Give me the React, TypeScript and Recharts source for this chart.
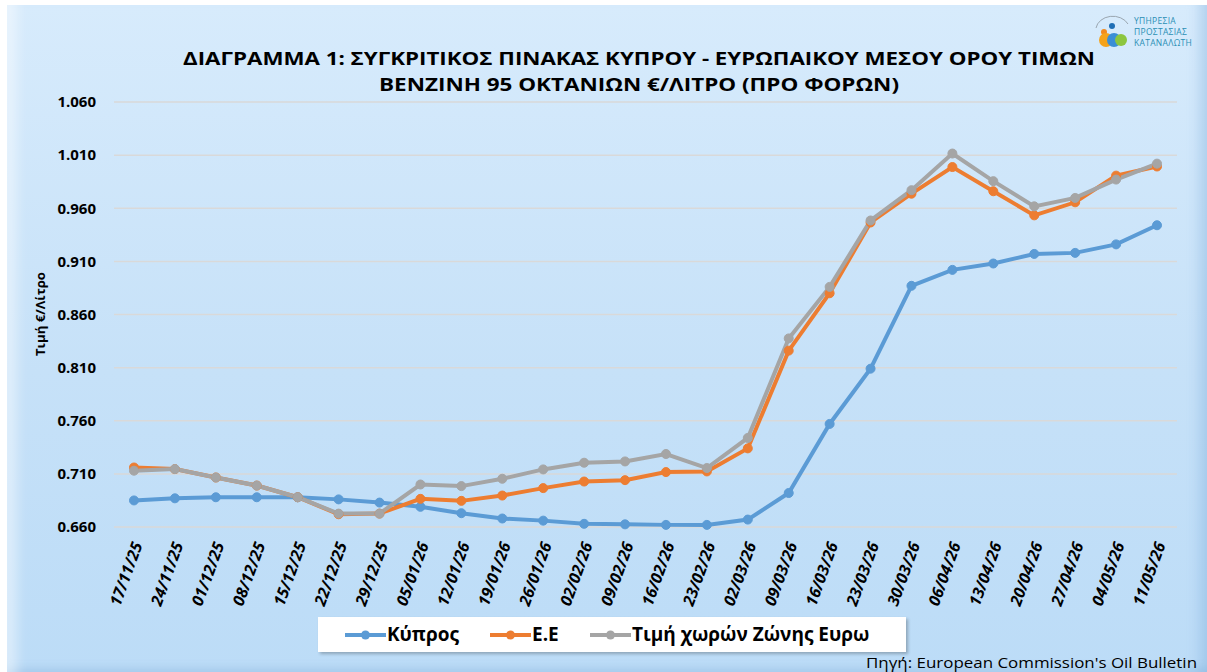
import React from 'react';
import { LineChart, Line, XAxis, YAxis, CartesianGrid, Legend } from 'recharts';

const dates = [
  '17/11/25', '24/11/25', '01/12/25', '08/12/25', '15/12/25', '22/12/25', '29/12/25',
  '05/01/26', '12/01/26', '19/01/26', '26/01/26', '02/02/26', '09/02/26', '16/02/26',
  '23/02/26', '02/03/26', '09/03/26', '16/03/26', '23/03/26', '30/03/26', '06/04/26',
  '13/04/26', '20/04/26', '27/04/26', '04/05/26', '11/05/26',
];

const cyprus = [
  0.685, 0.687, 0.688, 0.688, 0.688, 0.686, 0.683, 0.679, 0.673, 0.668, 0.666, 0.663, 0.6625,
  0.662, 0.662, 0.667, 0.692, 0.757, 0.809, 0.887, 0.902, 0.908, 0.917, 0.918, 0.926, 0.944,
];

const eu = [
  0.716, 0.7145, 0.7066, 0.699, 0.688, 0.672, 0.6726, 0.6865, 0.6846, 0.6896, 0.6966, 0.7028, 0.7041,
  0.7117, 0.7123, 0.734, 0.826, 0.88, 0.9466, 0.9737, 0.9988, 0.976, 0.9533, 0.9656, 0.9907, 0.9993,
];

const euroZone = [
  0.713, 0.7145, 0.7066, 0.699, 0.688, 0.6726, 0.6726, 0.7, 0.6985, 0.7054, 0.7142, 0.7205, 0.7217,
  0.7287, 0.7155, 0.7438, 0.8375, 0.886, 0.9485, 0.977, 1.0115, 0.9855, 0.9618, 0.9697, 0.987, 1.002,
];

const yTicks = [0.66, 0.71, 0.76, 0.81, 0.86, 0.91, 0.96, 1.01, 1.06];

const series = [
  { key: 'cyprus', name: 'Κύπρος', color: '#5B9BD5' },
  { key: 'eu', name: 'Ε.Ε', color: '#ED7D31' },
  { key: 'euroZone', name: 'Τιμή χωρών Ζώνης Ευρω', color: '#A5A5A5' },
];

const data = dates.map((d, i) => ({ date: d, cyprus: cyprus[i], eu: eu[i], euroZone: euroZone[i] }));

const FONT = '"Open Sans", "DejaVu Sans", sans-serif';

// legend item x offsets inside the white box (icon start)
const legendX = [27, 172, 272];

const DateTick = (props: any) => {
  const { x, y, payload } = props;
  return (
    <g transform={`translate(${x + 4},${y + 8})`}>
      <text
        transform="rotate(-70)"
        textAnchor="end"
        dy={5}
        fontSize={16}
        fontWeight={700}
        fontStyle="italic"
        fontFamily={FONT}
        fill="#000"
      >
        {payload.value}
      </text>
    </g>
  );
};

const LegendBox = () => (
  <div
    style={{
      position: 'relative',
      width: 588,
      height: 35,
      background: '#fff',
      boxShadow: '2px 2px 3px rgba(0,0,0,0.25)',
      fontFamily: FONT,
      fontWeight: 700,
      fontSize: 19,
      color: '#000',
    }}
  >
    {series.map((s, i) => (
      <div key={s.key} style={{ position: 'absolute', left: legendX[i], top: 0, height: 35, display: 'flex', alignItems: 'center' }}>
        <svg width={41} height={12}>
          <line x1={0} y1={6} x2={41} y2={6} stroke={s.color} strokeWidth={4} />
          <circle cx={20.5} cy={6} r={4.5} fill={s.color} />
        </svg>
        <span style={{ marginLeft: 1, lineHeight: '35px' }}>{s.name}</span>
      </div>
    ))}
  </div>
);

const Logo = () => (
  <div style={{ position: 'absolute', left: 1092, top: 14, display: 'flex', alignItems: 'center' }}>
    <svg width={40} height={34}>
      <path d="M4 14 A17 14 0 0 1 36 10" fill="none" stroke="#9aa6b0" strokeWidth={1} />
      <circle cx={20} cy={12} r={3} fill="#1f6fb5" />
      <circle cx={12} cy={18} r={3} fill="#f28b1e" />
      <circle cx={14} cy={26} r={7} fill="#f5a31a" />
      <circle cx={22} cy={26} r={7} fill="#3a8fd6" />
      <circle cx={29} cy={26} r={6} fill="#8cc63f" />
    </svg>
    <div style={{ fontFamily: FONT, fontSize: 8.5, lineHeight: '11px', color: '#2a8fb5', marginLeft: 2, letterSpacing: 0.3 }}>
      <div>ΥΠΗΡΕΣΙΑ</div>
      <div>ΠΡΟΣΤΑΣΙΑΣ</div>
      <div>ΚΑΤΑΝΑΛΩΤΗ</div>
    </div>
  </div>
);

export default function App() {
  return (
    <div style={{ position: 'absolute', left: 0, top: 0, width: 1207, height: 672, background: '#fff', overflow: 'hidden' }}>
      <div
        style={{
          position: 'absolute',
          left: 7,
          top: 5,
          width: 1200,
          height: 667,
          background: 'linear-gradient(180deg, #d7ebfc 0%, #c6e1f8 55%, #bcdcf7 100%)',
          boxShadow:
            'inset 22px 0 12px -12px rgba(255,255,255,0.45), inset -18px 0 12px -10px rgba(120,170,215,0.35), inset 0 -10px 8px -6px rgba(120,170,215,0.3)',
        }}
      />
      <Logo />
      <svg style={{ position: 'absolute', left: 0, top: 0 }} width={1207} height={672}>
        <text x={639} y={65} textAnchor="middle" fontFamily={FONT} fontWeight={700} fontSize={17} fill="#000" textLength={912} lengthAdjust="spacingAndGlyphs">
          ΔΙΑΓΡΑΜΜΑ 1: ΣΥΓΚΡΙΤΙΚΟΣ ΠΙΝΑΚΑΣ ΚΥΠΡΟΥ - ΕΥΡΩΠΑΙΚΟΥ ΜΕΣΟΥ ΟΡΟΥ ΤΙΜΩΝ
        </text>
        <text x={639} y={91} textAnchor="middle" fontFamily={FONT} fontWeight={700} fontSize={17} fill="#000" textLength={520} lengthAdjust="spacingAndGlyphs">
          ΒΕΝΖΙΝΗ 95 ΟΚΤΑΝΙΩΝ €/ΛΙΤΡΟ (ΠΡΟ ΦΟΡΩΝ)
        </text>
        <text x={0} y={0} transform="translate(45,314) rotate(-90)" textAnchor="middle" fontFamily={FONT} fontWeight={700} fontSize={13} fill="#000" textLength={84} lengthAdjust="spacingAndGlyphs">
          Τιμή €/Λίτρο
        </text>
        <text x={1197} y={668} textAnchor="end" fontFamily={FONT} fontSize={14} fill="#000" textLength={331} lengthAdjust="spacingAndGlyphs">
          Πηγή: European Commission's Oil Bulletin
        </text>
      </svg>
      <div style={{ position: 'absolute', left: 0, top: 0 }}>
        <LineChart width={1207} height={672} data={data} margin={{ top: 102, right: 30, bottom: 30, left: 54 }}>
          <CartesianGrid vertical={false} stroke="#d9d9d9" strokeWidth={1.5} />
          <XAxis
            dataKey="date"
            interval={0}
            padding={{ left: 20, right: 20 }}
            axisLine={false}
            tickLine={false}
            height={80}
            tick={<DateTick />}
          />
          <YAxis
            domain={[0.66, 1.06]}
            ticks={yTicks}
            width={60}
            axisLine={false}
            tickLine={false}
            tickSize={0}
            tickMargin={18}
            tickFormatter={(v: number) => v.toFixed(3)}
            tick={{ fontSize: 15, fontWeight: 700, fontFamily: FONT, fill: '#000' }}
          />
          {series.map((s) => (
            <Line
              key={s.key}
              type="linear"
              dataKey={s.key}
              name={s.name}
              stroke={s.color}
              strokeWidth={4}
              dot={{ r: 4.5, fill: s.color, stroke: s.color, strokeWidth: 1 }}
              activeDot={false}
              isAnimationActive={false}
            />
          ))}
          <Legend
            content={<LegendBox />}
            wrapperStyle={{ position: 'absolute', left: 318, top: 617, width: 588, height: 35 }}
          />
        </LineChart>
      </div>
    </div>
  );
}
